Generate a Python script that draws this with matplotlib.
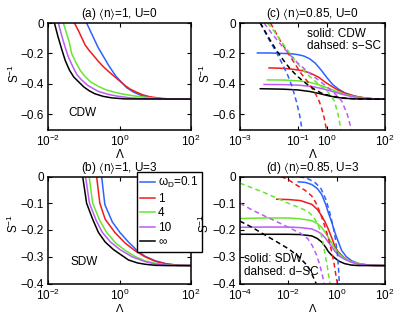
import numpy as np
import matplotlib
matplotlib.use("Agg")
import matplotlib.pyplot as plt
from matplotlib.ticker import FuncFormatter, LogFormatterSciNotation, NullLocator

plt.rcParams['font.family'] = ['Liberation Sans', 'DejaVu Sans']
plt.rcParams['mathtext.fontset'] = 'custom'
plt.rcParams['mathtext.rm'] = 'Liberation Sans'
plt.rcParams['mathtext.it'] = 'Liberation Sans:italic'
plt.rcParams['mathtext.default'] = 'regular'
plt.rcParams['axes.unicode_minus'] = True

FS = 8.5
colors = ['#2D62FF', '#EE1C1C', '#66E62E', '#BA5CF5', '#000000']
legend_labels = [r'$\omega_D$=0.1', '1', '4', '10', '\u221e']

# ---------------- panel (a): <n>=1, U=0, CDW  (x given as log10 Lambda) ----------
a_blue_x = [-0.92, -0.8, -0.7, -0.6, -0.5, -0.4, -0.3, -0.2, -0.1, 0.0, 0.1, 0.2, 0.3, 0.4, 0.5, 0.6, 0.7, 0.8, 0.9, 1.0, 1.2, 1.5, 2.0]
a_blue_y = [0.0, -0.06, -0.11, -0.16, -0.2, -0.24, -0.28, -0.315, -0.35, -0.375, -0.4, -0.425, -0.44, -0.455, -0.465, -0.475, -0.482, -0.487, -0.49, -0.494, -0.498, -0.5, -0.5]
a_red_x = [-1.26, -1.15, -1.05, -0.96, -0.85, -0.74, -0.6, -0.46, -0.3, -0.15, 0.0, 0.15, 0.3, 0.48, 0.65, 0.85, 1.0, 1.2, 1.5, 2.0]
a_red_y = [0.0, -0.05, -0.1, -0.145, -0.18, -0.21, -0.25, -0.285, -0.32, -0.35, -0.38, -0.41, -0.435, -0.455, -0.472, -0.485, -0.49, -0.496, -0.5, -0.5]
a_green_x = [-1.57, -1.48, -1.4, -1.34, -1.22, -1.1, -0.97, -0.82, -0.59, -0.4, -0.22, 0.0, 0.34, 0.6, 1.0, 1.3, 2.0]
a_green_y = [0.0, -0.07, -0.13, -0.2, -0.26, -0.31, -0.35, -0.385, -0.417, -0.437, -0.45, -0.463, -0.477, -0.485, -0.495, -0.499, -0.5]
a_purple_x = [-1.71, -1.62, -1.52, -1.43, -1.3, -1.19, -1.06, -0.89, -0.59, -0.3, -0.03, 0.3, 0.7, 2.0]
a_purple_y = [0.0, -0.08, -0.16, -0.224, -0.29, -0.34, -0.374, -0.41, -0.45, -0.47, -0.482, -0.492, -0.498, -0.5]
a_black_x = [-1.82, -1.72, -1.62, -1.52, -1.4, -1.28, -1.15, -1.0, -0.85, -0.69, -0.46, -0.22, 0.15, 2.0]
a_black_y = [0.0, -0.09, -0.17, -0.245, -0.31, -0.355, -0.385, -0.42, -0.445, -0.465, -0.482, -0.492, -0.499, -0.5]

# ---------------- panel (b): <n>=1, U=3, SDW ----------
b_blue_x = [-0.5, -0.41, -0.2, 0.01, 0.25, 0.48, 0.71, 1.0, 1.3, 1.65, 2.0]
b_blue_y = [0.0, -0.105, -0.17, -0.209, -0.245, -0.275, -0.298, -0.315, -0.326, -0.332, -0.333]
b_red_x = [-0.64, -0.55, -0.4, -0.13, 0.15, 0.43, 0.71, 1.0, 1.3, 1.65, 2.0]
b_red_y = [0.0, -0.1, -0.16, -0.209, -0.248, -0.277, -0.3, -0.317, -0.327, -0.332, -0.333]
b_green_x = [-0.85, -0.75, -0.55, -0.36, -0.1, 0.2, 0.45, 0.71, 1.0, 1.3, 1.65, 2.0]
b_green_y = [0.0, -0.1, -0.165, -0.209, -0.25, -0.28, -0.3, -0.315, -0.325, -0.33, -0.333, -0.333]
b_purple_x = [-0.95, -0.84, -0.65, -0.48, -0.25, 0.01, 0.35, 0.71, 1.0, 1.3, 1.65, 2.0]
b_purple_y = [0.0, -0.1, -0.165, -0.209, -0.245, -0.273, -0.3, -0.318, -0.327, -0.331, -0.333, -0.333]
b_black_x = [-1.03, -0.92, -0.75, -0.59, -0.4, -0.17, 0.25, 0.5, 0.71, 1.0, 1.3, 2.0]
b_black_y = [0.0, -0.1, -0.16, -0.209, -0.245, -0.273, -0.312, -0.323, -0.328, -0.332, -0.333, -0.333]

# ---------------- panel (c): <n>=0.85, U=0, solid CDW / dashed s-SC ----------
c_blue_x = [-2.4, -2.0, -1.5, -1.2, -1.0, -0.8, -0.6, -0.4, -0.2, 0.0, 0.2, 0.4, 0.6, 0.8, 1.0, 1.3, 1.6, 2.0]
c_blue_y = [-0.197, -0.197, -0.2, -0.203, -0.208, -0.217, -0.235, -0.265, -0.31, -0.36, -0.405, -0.435, -0.458, -0.472, -0.484, -0.494, -0.499, -0.5]
c_red_x = [-2.0, -1.5, -1.14, -0.8, -0.56, -0.3, -0.09, 0.15, 0.37, 0.6, 0.95, 1.3, 1.6, 2.0]
c_red_y = [-0.295, -0.298, -0.305, -0.315, -0.331, -0.355, -0.385, -0.415, -0.44, -0.46, -0.48, -0.492, -0.498, -0.5]
c_green_x = [-2.06, -1.5, -1.0, -0.6, -0.3, 0.0, 0.3, 0.6, 0.9, 1.2, 1.6, 2.0]
c_green_y = [-0.374, -0.375, -0.38, -0.39, -0.405, -0.425, -0.448, -0.468, -0.482, -0.492, -0.498, -0.5]
c_purple_x = [-2.17, -1.5, -1.0, -0.5, -0.2, 0.1, 0.4, 0.7, 1.0, 1.3, 1.7, 2.0]
c_purple_y = [-0.404, -0.405, -0.408, -0.418, -0.43, -0.445, -0.462, -0.477, -0.488, -0.495, -0.499, -0.5]
c_black_x = [-2.3, -1.5, -1.0, -0.6, -0.3, 0.0, 0.3, 0.6, 1.0, 1.5, 2.0]
c_black_y = [-0.432, -0.435, -0.44, -0.45, -0.462, -0.476, -0.488, -0.495, -0.499, -0.5, -0.5]

c_blue_d_x = [-2.3, -2.0, -1.75, -1.5, -1.35, -1.2, -1.05, -0.95, -0.86]
c_blue_d_y = [0.0, -0.11, -0.19, -0.285, -0.345, -0.42, -0.52, -0.6, -0.7]
c_red_d_x = [-1.95, -1.6, -1.37, -1.1, -0.9, -0.65, -0.44, -0.3, -0.2, -0.1, -0.02]
c_red_d_y = [0.0, -0.12, -0.19, -0.27, -0.33, -0.39, -0.45, -0.5, -0.55, -0.62, -0.7]
c_green_d_x = [-2.05, -1.8, -1.6, -1.3, -1.02, -0.7, -0.33, 0.0, 0.25, 0.38, 0.48]
c_green_d_y = [0.0, -0.06, -0.116, -0.195, -0.266, -0.335, -0.395, -0.445, -0.51, -0.6, -0.7]
c_purple_d_x = [-2.17, -1.9, -1.6, -1.3, -1.0, -0.6, -0.2, 0.2, 0.5, 0.7, 0.84]
c_purple_d_y = [0.0, -0.07, -0.14, -0.205, -0.265, -0.33, -0.39, -0.45, -0.51, -0.6, -0.7]
c_black_d_x = [-2.3, -2.0, -1.75, -1.5, -1.29, -1.05, -0.82, -0.6, -0.4, -0.2, 0.1, 0.5, 1.0, 2.0]
c_black_d_y = [0.0, -0.1, -0.178, -0.245, -0.297, -0.345, -0.383, -0.415, -0.44, -0.46, -0.478, -0.492, -0.499, -0.5]

# ---------------- panel (d): <n>=0.85, U=3, solid SDW / dashed d-SC ----------
d_blue_x = [-1.59, -1.3, -1.03, -0.8, -0.62, -0.45, -0.35, -0.2, -0.07, 0.05, 0.21, 0.4, 0.62, 0.9, 1.3, 1.7, 2.0]
d_blue_y = [-0.02, -0.022, -0.03, -0.045, -0.067, -0.105, -0.134, -0.172, -0.21, -0.24, -0.277, -0.3, -0.315, -0.325, -0.331, -0.333, -0.333]
d_red_x = [-2.48, -2.0, -1.5, -1.03, -0.8, -0.62, -0.48, -0.35, -0.2, -0.07, 0.05, 0.21, 0.4, 0.62, 0.9, 1.17, 1.5, 2.0]
d_red_y = [-0.085, -0.086, -0.09, -0.104, -0.123, -0.147, -0.17, -0.196, -0.23, -0.262, -0.28, -0.295, -0.31, -0.32, -0.327, -0.331, -0.333, -0.333]
d_green_x = [-4.0, -3.0, -2.0, -1.5, -1.03, -0.8, -0.62, -0.45, -0.35, -0.2, -0.07, 0.1, 0.34, 0.6, 0.9, 1.3, 2.0]
d_green_y = [-0.157, -0.155, -0.155, -0.158, -0.165, -0.176, -0.19, -0.212, -0.227, -0.25, -0.27, -0.29, -0.307, -0.318, -0.325, -0.331, -0.333]
d_purple_x = [-4.0, -3.0, -2.0, -1.5, -1.03, -0.8, -0.62, -0.45, -0.35, -0.2, -0.07, 0.1, 0.34, 0.6, 0.9, 1.3, 2.0]
d_purple_y = [-0.19, -0.189, -0.189, -0.191, -0.196, -0.205, -0.215, -0.232, -0.245, -0.263, -0.28, -0.297, -0.31, -0.32, -0.327, -0.331, -0.333]
d_black_x = [-4.0, -3.0, -2.0, -1.5, -1.03, -0.8, -0.62, -0.45, -0.35, -0.2, -0.07, 0.1, 0.34, 0.6, 0.9, 2.0]
d_black_y = [-0.216, -0.216, -0.216, -0.217, -0.222, -0.232, -0.245, -0.265, -0.28, -0.295, -0.305, -0.317, -0.326, -0.331, -0.333, -0.333]

d_blue_d_x = [-1.55, -1.2, -0.9, -0.65, -0.45, -0.3, -0.15, -0.05, 0.03, 0.08, 0.11]
d_blue_d_y = [0.0, -0.008, -0.022, -0.045, -0.085, -0.13, -0.185, -0.235, -0.29, -0.35, -0.4]
d_red_d_x = [-2.3, -2.0, -1.59, -1.3, -1.03, -0.85, -0.69, -0.55, -0.41, -0.3, -0.2, -0.1, -0.03, 0.03]
d_red_d_y = [0.0, -0.012, -0.036, -0.052, -0.073, -0.1, -0.134, -0.17, -0.21, -0.245, -0.283, -0.33, -0.37, -0.4]
d_green_d_x = [-4.0, -3.0, -2.5, -2.0, -1.5, -1.2, -0.97, -0.8, -0.69, -0.58, -0.48, -0.4, -0.33, -0.28]
d_green_d_y = [-0.025, -0.06, -0.08, -0.1, -0.118, -0.13, -0.15, -0.175, -0.2, -0.24, -0.29, -0.33, -0.37, -0.4]
d_purple_d_x = [-4.0, -3.5, -3.0, -2.5, -2.0, -1.5, -1.2, -1.0, -0.83, -0.7, -0.6, -0.52]
d_purple_d_y = [-0.1, -0.125, -0.147, -0.168, -0.19, -0.212, -0.232, -0.26, -0.294, -0.33, -0.365, -0.4]
d_black_d_x = [-4.0, -3.5, -3.0, -2.5, -2.0, -1.6, -1.3, -1.1, -0.95, -0.85]
d_black_d_y = [-0.167, -0.19, -0.217, -0.243, -0.27, -0.297, -0.325, -0.35, -0.38, -0.4]

titles = [r'(a) $\langle$n$\rangle$=1, U=0', r'(c) $\langle$n$\rangle$=0.85, U=0',
          r'(b) $\langle$n$\rangle$=1, U=3', r'(d) $\langle$n$\rangle$=0.85, U=3']

fig = plt.figure(figsize=(4.15, 3.14), dpi=100)
W, H = 415.0, 314.0
def rect(l, r, t, b):
    return [l / W, 1 - b / H, (r - l) / W, (b - t) / H]

BOT = 283.5
ax_a = fig.add_axes(rect(48, 191, 23, 129.5))
ax_c = fig.add_axes(rect(240, 385, 23, 129.5))
ax_b = fig.add_axes(rect(48, 191, 176.5, BOT))
ax_d = fig.add_axes(rect(240, 385, 176.5, BOT))

LW = 1.1
DASH = (0, (3.2, 2.2))

def L(v):
    return np.power(10.0, np.asarray(v, dtype=float))

def style(ax, xlim, xticks, ylim, yticks, title):
    ax.set_xscale('log')
    ax.set_xlim(*xlim)
    ax.set_ylim(*ylim)
    ax.set_xticks(xticks)
    ax.xaxis.set_major_formatter(LogFormatterSciNotation())
    ax.xaxis.set_minor_locator(NullLocator())
    ax.set_yticks(yticks)
    ax.yaxis.set_major_formatter(FuncFormatter(lambda v, p: ('%g' % v).replace('-', '\u2212')))
    ax.tick_params(direction='in', top=True, right=True, length=3, width=0.8, labelsize=FS, pad=3)
    for s in ax.spines.values():
        s.set_linewidth(1.1)
    ax.set_title(title, fontsize=FS, pad=4)
    ax.set_xlabel('\u039b', fontsize=FS)
    ax.set_ylabel('S$^{-1}$', fontsize=FS)

# panel a
for xs, ys, c in zip([a_blue_x, a_red_x, a_green_x, a_purple_x, a_black_x],
                     [a_blue_y, a_red_y, a_green_y, a_purple_y, a_black_y], colors):
    ax_a.plot(L(xs), ys, color=c, lw=LW)
style(ax_a, (1e-2, 1e2), [1e-2, 1, 1e2], (-0.7, 0), [-0.6, -0.4, -0.2, 0], titles[0])
ax_a.text(0.142, 0.158, 'CDW', transform=ax_a.transAxes, fontsize=FS, va='center', ha='left')

# panel b
handles = []
for xs, ys, c in zip([b_blue_x, b_red_x, b_green_x, b_purple_x, b_black_x],
                     [b_blue_y, b_red_y, b_green_y, b_purple_y, b_black_y], colors):
    h, = ax_b.plot(L(xs), ys, color=c, lw=LW)
    handles.append(h)
style(ax_b, (1e-2, 1e2), [1e-2, 1, 1e2], (-0.4, 0), [-0.4, -0.3, -0.2, -0.1, 0], titles[2])
ax_b.text(0.154, 0.199, 'SDW', transform=ax_b.transAxes, fontsize=FS, va='center', ha='left')

# panel c
for xs, ys, c in zip([c_blue_x, c_red_x, c_green_x, c_purple_x, c_black_x],
                     [c_blue_y, c_red_y, c_green_y, c_purple_y, c_black_y], colors):
    ax_c.plot(L(xs), ys, color=c, lw=LW)
for xs, ys, c in zip([c_blue_d_x, c_red_d_x, c_green_d_x, c_purple_d_x, c_black_d_x],
                     [c_blue_d_y, c_red_d_y, c_green_d_y, c_purple_d_y, c_black_d_y], colors):
    ax_c.plot(L(xs), ys, color=c, lw=LW, ls=DASH)
style(ax_c, (1e-3, 1e2), [1e-3, 1e-1, 1, 1e2], (-0.7, 0), [-0.6, -0.4, -0.2, 0], titles[1])
ax_c.text(0.46, 0.897, 'solid: CDW', transform=ax_c.transAxes, fontsize=FS, va='center', ha='left')
ax_c.text(0.46, 0.781, 'dahsed: s\u2212SC', transform=ax_c.transAxes, fontsize=FS, va='center', ha='left')

# panel d
for xs, ys, c in zip([d_blue_x, d_red_x, d_green_x, d_purple_x, d_black_x],
                     [d_blue_y, d_red_y, d_green_y, d_purple_y, d_black_y], colors):
    ax_d.plot(L(xs), ys, color=c, lw=LW)
for xs, ys, c in zip([d_blue_d_x, d_red_d_x, d_green_d_x, d_purple_d_x, d_black_d_x],
                     [d_blue_d_y, d_red_d_y, d_green_d_y, d_purple_d_y, d_black_d_y], colors):
    ax_d.plot(L(xs), ys, color=c, lw=LW, ls=DASH)
style(ax_d, (1e-4, 1e2), [1e-4, 1e-2, 1, 1e2], (-0.4, 0), [-0.4, -0.3, -0.2, -0.1, 0], titles[3])
ax_d.text(0.03, 0.227, 'solid: SDW', transform=ax_d.transAxes, fontsize=FS, va='center', ha='left')
ax_d.text(0.03, 0.104, 'dahsed: d\u2212SC', transform=ax_d.transAxes, fontsize=FS, va='center', ha='left')

# label positions
ax_a.yaxis.set_label_coords(-0.18, 0.53)
ax_c.yaxis.set_label_coords(-0.185, 0.53)
ax_b.yaxis.set_label_coords(-0.19, 0.56)
ax_d.yaxis.set_label_coords(-0.19, 0.56)
ax_a.xaxis.set_label_coords(0.5, -0.18)
ax_c.xaxis.set_label_coords(0.5, -0.18)
hb = BOT - 176.5
for ax in (ax_b, ax_d):
    ax.xaxis.label.set_fontsize(8)
    ax.xaxis.label.set_verticalalignment('bottom')
    ax.xaxis.set_label_coords(0.5, -(313.8 - BOT) / hb)

leg = ax_b.legend(handles, legend_labels, loc='upper left',
                  bbox_to_anchor=(137 / W, 1 - 171.7 / H), bbox_transform=fig.transFigure,
                  borderaxespad=0, fancybox=False, edgecolor='k', framealpha=1,
                  fontsize=FS, handlelength=1.25, handletextpad=0.25, labelspacing=0.22,
                  borderpad=0.28)
leg.get_frame().set_linewidth(1.0)
leg.set_zorder(10)

fig.savefig('out.png', dpi=100)
